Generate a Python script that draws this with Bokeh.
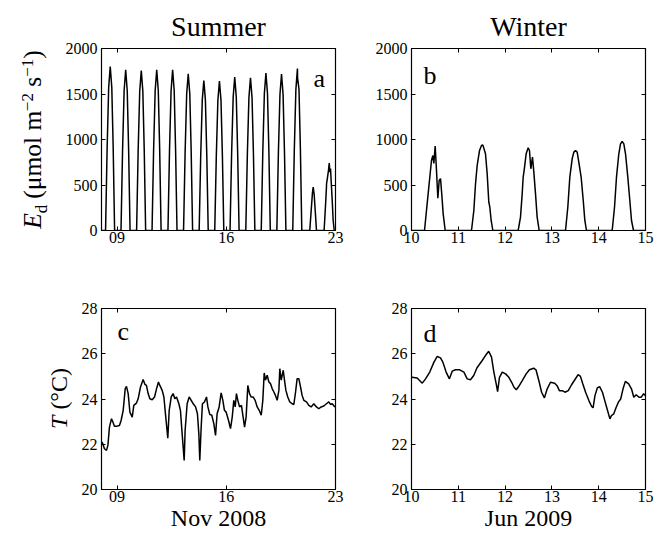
from bokeh.plotting import figure
from bokeh.models import Range1d, FixedTicker, LinearAxis, Label
from bokeh.layouts import column, row
from bokeh.embed import file_html
from bokeh.resources import INLINE
import math

FONT = "Liberation Serif"

# ---------------- data ----------------
summer_x_ticks = [9, 16, 23]
summer_x_labels = ["09", "16", "23"]
winter_x_ticks = [10, 11, 12, 13, 14, 15]
winter_x_labels = ["10", "11", "12", "13", "14", "15"]
ed_y_ticks = [0, 500, 1000, 1500, 2000]
t_y_ticks = [20, 22, 24, 26, 28]

ed_summer_day = [
    8.00, 8.26, 8.36, 8.46, 8.56, 8.66, 8.75, 8.84,
    9.25, 9.35, 9.45, 9.55, 9.65, 9.74, 9.83,
    10.25, 10.35, 10.45, 10.55, 10.65, 10.74, 10.83,
    11.24, 11.34, 11.44, 11.54, 11.64, 11.73, 11.82,
    12.26, 12.36, 12.46, 12.56, 12.66, 12.75, 12.84,
    13.26, 13.36, 13.46, 13.56, 13.66, 13.75, 13.84,
    14.26, 14.36, 14.46, 14.56, 14.66, 14.75, 14.84,
    15.26, 15.36, 15.46, 15.56, 15.66, 15.75, 15.84,
    16.24, 16.34, 16.44, 16.54, 16.64, 16.73, 16.82,
    17.25, 17.35, 17.45, 17.55, 17.65, 17.74, 17.83,
    18.24, 18.34, 18.44, 18.54, 18.64, 18.73, 18.82,
    19.24, 19.34, 19.44, 19.54, 19.64, 19.73, 19.82,
    20.26, 20.36, 20.46, 20.56, 20.575, 20.58, 20.66, 20.75, 20.84,
    21.35, 21.45, 21.52, 21.57, 21.63, 21.70, 21.78,
    22.27, 22.36, 22.42, 22.425, 22.49, 22.55, 22.60, 22.64, 22.68, 22.72, 22.79, 22.85, 22.92,
    23.00,
]
ed_summer = [
    0, 0, 900, 1570, 1802, 1570, 900, 0,
    0, 880, 1535, 1766, 1535, 880, 0,
    0, 880, 1530, 1758, 1530, 880, 0,
    0, 885, 1535, 1766, 1535, 885, 0,
    0, 885, 1535, 1766, 1535, 885, 0,
    0, 860, 1500, 1722, 1500, 860, 0,
    0, 825, 1435, 1648, 1435, 825, 0,
    0, 820, 1430, 1643, 1430, 820, 0,
    0, 840, 1465, 1685, 1465, 840, 0,
    0, 840, 1460, 1678, 1460, 840, 0,
    0, 865, 1505, 1729, 1505, 865, 0,
    0, 860, 1495, 1718, 1495, 860, 0,
    0, 890, 1550, 1780, 1620, 1660, 1550, 890, 0,
    0, 240, 410, 476, 400, 220, 0,
    0, 275, 476, 513, 586, 660, 740, 641, 680, 550, 330, 110, 0,
    0,
]

ed_winter_day = [
    10.00, 10.278, 10.37, 10.427, 10.456, 10.477, 10.506, 10.534, 10.563, 10.591, 10.62, 10.648, 10.677, 10.72,
    11.282, 11.332, 11.368, 11.403, 11.453, 11.496, 11.524, 11.581, 11.617, 11.652, 11.674, 11.702, 11.738,
    12.279, 12.329, 12.365, 12.386, 12.407, 12.45, 12.493, 12.521, 12.55, 12.585, 12.614, 12.65, 12.685, 12.728,
    13.291, 13.340, 13.383, 13.433, 13.469, 13.504, 13.540, 13.575, 13.625, 13.668, 13.704, 13.739,
    14.288, 14.338, 14.380, 14.430, 14.466, 14.501, 14.537, 14.573, 14.622, 14.665, 14.701, 14.744,
    15.00,
]
ed_winter = [
    0, 0, 476, 769, 824, 736, 927, 660, 355, 550, 570, 392, 183, 0,
    0, 220, 513, 714, 879, 934, 941, 843, 623, 311, 256, 110, 0,
    0, 147, 403, 586, 660, 843, 909, 879, 678, 806, 641, 403, 147, 0,
    0, 256, 586, 788, 861, 879, 861, 751, 586, 341, 110, 0,
    0, 256, 586, 843, 952, 978, 952, 843, 586, 330, 110, 0,
    0,
]

t_summer_day = [
    8.04, 8.19, 8.32, 8.41, 8.51, 8.64, 8.73, 8.83, 9.00, 9.15, 9.26, 9.39, 9.52, 9.60, 9.71,
    9.82, 9.97, 10.07, 10.24, 10.35, 10.50, 10.67, 10.78, 10.88, 10.99, 11.10, 11.25, 11.40,
    11.53, 11.65, 11.74, 11.89, 12.00, 12.12, 12.25, 12.34, 12.47, 12.59, 12.70, 12.81, 12.96,
    13.06, 13.17, 13.30, 13.36, 13.49, 13.62, 13.75, 13.88, 14.03, 14.15, 14.24, 14.30, 14.39,
    14.47, 14.60, 14.73, 14.82, 14.94, 15.07, 15.20, 15.31, 15.41, 15.54, 15.67, 15.78, 15.88,
    15.99, 16.14, 16.27, 16.38, 16.48, 16.57, 16.65, 16.74, 16.85, 16.97, 17.08, 17.17, 17.27,
    17.38, 17.49, 17.59, 17.72, 17.85, 17.98, 18.11, 18.24, 18.34, 18.43, 18.51, 18.62, 18.73,
    18.83, 18.94, 19.05, 19.15, 19.26, 19.37, 19.43, 19.52, 19.65, 19.73, 19.82, 19.94, 20.07,
    20.22, 20.33, 20.44, 20.54, 20.65, 20.76, 20.86, 20.97, 21.14, 21.29, 21.44, 21.61, 21.78,
    21.93, 22.08, 22.25, 22.42, 22.57, 22.68, 22.79, 22.96,
]
t_summer = [
    22.10, 21.80, 21.73, 21.95, 22.76, 23.13, 22.98, 22.80, 22.80, 22.83, 23.06, 23.50, 24.46, 24.56, 24.24,
    23.42, 23.20, 23.72, 23.82, 24.01, 24.53, 24.86, 24.65, 24.60, 24.24, 24.01, 23.97, 24.09,
    24.46, 24.75, 24.60, 24.38, 24.09, 23.20, 22.27, 23.50, 24.09, 24.24, 24.01, 24.09, 23.79,
    23.50, 22.46, 21.28, 22.61, 23.79, 24.09, 23.94, 23.79, 23.65, 23.35, 22.46, 21.28, 22.76,
    23.79, 23.87, 24.09, 23.65, 23.32, 23.28, 22.91, 22.39, 23.35, 23.65, 24.27, 23.94, 23.50,
    23.42, 23.06, 22.69, 23.20, 23.94, 23.65, 24.24, 23.94, 23.65, 23.72, 23.20, 22.76, 23.20,
    24.60, 24.24, 24.09, 24.09, 23.94, 23.65, 23.50, 23.28, 23.94, 25.15, 24.83, 25.05, 24.75,
    24.68, 24.46, 24.31, 24.16, 23.94, 24.38, 25.34, 24.83, 25.27, 24.83, 24.38, 24.09, 23.87,
    23.79, 23.76, 24.31, 24.90, 24.90, 24.53, 24.16, 23.94, 23.87, 23.72, 23.65, 23.79, 23.65,
    23.57, 23.65, 23.69, 23.79, 23.87, 23.76, 23.79, 23.65,
]

t_winter_day = [
    10.01, 10.12, 10.23, 10.30, 10.39, 10.48, 10.55, 10.62, 10.67, 10.74, 10.81, 10.87, 10.94,
    11.03, 11.12, 11.19, 11.26, 11.33, 11.40, 11.50, 11.58, 11.65, 11.71, 11.76, 11.81, 11.84,
    11.88, 11.94, 12.01, 12.08, 12.14, 12.19, 12.24, 12.29, 12.37, 12.45, 12.52, 12.61, 12.66,
    12.72, 12.78, 12.84, 12.90, 12.97, 13.06, 13.11, 13.16, 13.22, 13.28, 13.35, 13.42, 13.49,
    13.56, 13.61, 13.66, 13.72, 13.79, 13.85, 13.88, 13.92, 13.97, 14.02, 14.08, 14.13, 14.18,
    14.24, 14.27, 14.32, 14.37, 14.42, 14.47, 14.52, 14.57, 14.64, 14.70, 14.75, 14.80, 14.86,
    14.91, 14.96, 15.00,
]
t_winter = [
    24.96, 24.93, 24.70, 24.89, 25.19, 25.63, 25.88, 25.82, 25.63, 25.19, 24.89, 25.23, 25.29,
    25.29, 25.19, 24.89, 24.85, 25.04, 25.38, 25.67, 25.92, 26.11, 25.85, 25.19, 24.67, 24.33,
    24.96, 25.19, 25.11, 24.96, 24.74, 24.52, 24.41, 24.55, 24.82, 25.11, 25.29, 25.36, 25.29,
    24.82, 24.30, 24.05, 24.45, 24.74, 24.70, 24.59, 24.37, 24.37, 24.30, 24.37, 24.63, 24.85,
    25.08, 25.00, 24.67, 24.30, 23.93, 23.67, 23.61, 24.15, 24.49, 24.55, 24.30, 23.93, 23.56,
    23.12, 23.26, 23.34, 23.61, 23.86, 24.00, 24.45, 24.78, 24.67, 24.45, 24.08, 24.19, 24.08,
    24.08, 24.23, 24.15,
]

# ---------------- layout helpers ----------------
FW = 234
TOP_H, BOT_H = 182, 181
YL1_W, YL2_W = 55, 74
MID = 0.3375         # distance (em) from text-box centre to baseline


def make_fig(xr, yr, xticks, xlabels, yticks, fh, mbl, mbr, mbt, mbb, xlabel=None):
    p = figure(frame_width=FW, frame_height=fh,
               x_range=Range1d(*xr), y_range=Range1d(*yr),
               output_backend="svg", toolbar_location=None,
               min_border_left=mbl, min_border_right=mbr,
               min_border_top=mbt, min_border_bottom=mbb)
    p.grid.visible = False
    p.outline_line_color = "black"
    p.outline_line_width = 1.2
    p.background_fill_color = "white"
    p.border_fill_color = "white"
    xover = {t: l for t, l in zip(xticks, xlabels)}
    yover = {t: str(t) for t in yticks}
    for ax, ticks, over in ((p.xaxis[0], xticks, xover), (p.yaxis[0], yticks, yover)):
        ax.ticker = FixedTicker(ticks=ticks)
        ax.major_label_overrides = over
        ax.major_tick_in = 4
        ax.major_tick_out = 0
        ax.minor_tick_line_color = None
        ax.axis_line_color = "black"
        ax.major_tick_line_color = "black"
        ax.major_label_text_font = FONT
        ax.major_label_text_font_size = "16px"
        ax.major_label_text_color = "black"
    p.xaxis[0].major_label_standoff = 1
    p.yaxis[0].major_label_standoff = 4
    if xlabel:
        xa_ = p.xaxis[0]
        xa_.axis_label = xlabel
        xa_.axis_label_text_font = FONT
        xa_.axis_label_text_font_size = "24px"
        xa_.axis_label_text_font_style = "normal"
        xa_.axis_label_text_color = "black"
        xa_.axis_label_standoff = 0
    # mirrored ticks (box on)
    for loc, ticks in (("right", yticks), ("above", xticks)):
        ax = LinearAxis(ticker=FixedTicker(ticks=ticks),
                        major_label_overrides={t: "" for t in ticks},
                        major_label_text_font_size="0px",
                        major_tick_in=4, major_tick_out=0,
                        minor_tick_line_color=None,
                        axis_line_color="black", major_label_standoff=0)
        p.add_layout(ax, loc)
    return p


def make_strip(w, h, top, bottom):
    p = figure(frame_width=w, frame_height=h, x_range=Range1d(0, w), y_range=Range1d(0, h),
               output_backend="svg", toolbar_location=None,
               x_axis_location=None, y_axis_location=None,
               min_border_left=0, min_border_right=0,
               min_border_top=top, min_border_bottom=bottom)
    p.outline_line_color = None
    p.grid.visible = False
    return p


def to_data(fr, xr, yr, px, py):
    left, top, w, h = fr
    return (xr[0] + (px - left) * (xr[1] - xr[0]) / w,
            yr[1] - (py - top) * (yr[1] - yr[0]) / h)


def put(p, fr, xr, yr, px, py, text, size, angle=0.0, style="normal"):
    x, y = to_data(fr, xr, yr, px, py)
    p.add_layout(Label(x=x, y=y, text=text, text_font=FONT, text_font_size=f"{size}px",
                       text_color="black", text_align="center", text_baseline="middle",
                       angle=angle, text_font_style=style))


EM = {"E": 0.611, "d": 0.5, " ": 0.25, "(": 0.333, ")": 0.333, "μ": 0.5, "m": 0.778,
      "o": 0.5, "l": 0.278, "s": 0.389, "−": 0.564, "1": 0.5, "2": 0.5, "T": 0.556,
      "°": 0.4, "C": 0.667, "a": 0.444, "b": 0.5, "c": 0.444}


def tw(s, size):
    return sum(EM.get(c, 0.5) for c in s) * size


def htext(p, fr, xr, yr, px_left, baseline, text, size):
    put(p, fr, xr, yr, px_left + tw(text, size) / 2, baseline - MID * size, text, size)


def vertical_label(p, fr, xr, yr, pieces, base_x, center_y):
    total = sum(tw(t, s) for t, s, _, _ in pieces)
    y = center_y + total / 2
    for t, s, dx, st in pieces:
        w = tw(t, s)
        lead = tw(t[: len(t) - len(t.lstrip())], s)
        core = t.lstrip()
        cw = tw(core, s)
        cy = y - lead - cw / 2
        put(p, fr, xr, yr, base_x + dx - MID * s, cy, core, s, angle=math.pi / 2, style=st)
        y -= w


def set_title(p, text):
    p.title.text = text
    p.title.align = "center"
    p.title.text_font = FONT
    p.title.text_font_size = "28px"
    p.title.text_font_style = "normal"
    p.title.text_color = "black"
    p.title.standoff = 13


fa = (101, 48, FW, TOP_H)
fb = (411, 48, FW, TOP_H)
fc = (101, 308, FW, BOT_H)
fd = (411, 308, FW, BOT_H)

# y-label strips with the same vertical geometry as the panels next to them
yl1 = make_strip(YL1_W, TOP_H, 48, 38)
vertical_label(yl1, (0, 48, YL1_W, TOP_H), (0, YL1_W), (0, TOP_H), [
    ("E", 25.5, 0, "italic"), ("d", 17, 6, "normal"), (" (μmol m", 25.5, 0, "normal"),
    ("−2", 17, -8, "normal"), (" s", 25.5, 0, "normal"), ("−1", 17, -8, "normal"),
    (")", 25.5, 0, "normal")], 41, 139)

yl2 = make_strip(YL2_W, BOT_H, 40, 20)
vertical_label(yl2, (0, 308, YL2_W, BOT_H), (0, YL2_W), (0, BOT_H),
               [("T", 24, 0, "italic"), (" (°C)", 24, 0, "normal")], 67, 398)

xa, ya = (8, 23), (0, 2000)
pa = make_fig(xa, ya, summer_x_ticks, summer_x_labels, ed_y_ticks, TOP_H, 101 - YL1_W, 30, 48, 38)
pa.line(ed_summer_day, ed_summer, line_color="black", line_width=1.5)
set_title(pa, "Summer")
htext(pa, fa, xa, ya, 313, 87, "a", 26)

xb, yb = (10, 15), (0, 2000)
pb = make_fig(xb, yb, winter_x_ticks, winter_x_labels, ed_y_ticks, TOP_H, 46, 10, 48, 38)
pb.line(ed_winter_day, ed_winter, line_color="black", line_width=1.5)
set_title(pb, "Winter")
htext(pb, fb, xb, yb, 423, 84, "b", 26)

xc, yc = (8, 23), (20, 28)
pc = make_fig(xc, yc, summer_x_ticks, summer_x_labels, t_y_ticks, BOT_H, 101 - YL2_W, 30, 40, 20,
              xlabel="Nov 2008")
pc.line(t_summer_day, t_summer, line_color="black", line_width=1.5)
htext(pc, fc, xc, yc, 117, 340, "c", 26)

xd, yd = (10, 15), (20, 28)
pd_ = make_fig(xd, yd, winter_x_ticks, winter_x_labels, t_y_ticks, BOT_H, 46, 10, 40, 20,
               xlabel="Jun 2009")
pd_.line(t_winter_day, t_winter, line_color="black", line_width=1.5)
htext(pd_, fd, xd, yd, 423, 342, "d", 26)

layout = column(row(yl1, pa, pb), row(yl2, pc, pd_))

open("out.html", "w").write(file_html(layout, INLINE))
